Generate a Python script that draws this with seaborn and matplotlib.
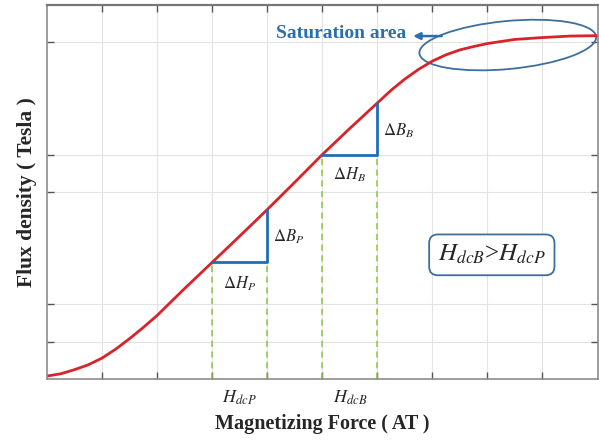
import numpy as np
import pandas as pd
import matplotlib
matplotlib.use('Agg')
import matplotlib.pyplot as plt
import matplotlib.transforms as mtransforms
from matplotlib.patches import Ellipse
import seaborn as sns

# B-H curve
force = [0, 0.25, 0.5, 0.75, 1, 1.25, 1.5, 1.75, 2, 2.5, 3, 3.5, 4, 4.5, 5, 5.5, 6,
         6.25, 6.5, 6.75, 7, 7.25, 7.5, 7.75, 8, 8.5, 9, 9.5, 10]
flux = [0.08, 0.14, 0.25, 0.38, 0.56, 0.8, 1.08, 1.38, 1.7, 2.42, 3.12, 3.82, 4.53, 5.26, 6.0, 6.7, 7.38,
        7.72, 8.02, 8.28, 8.5, 8.67, 8.8, 8.89, 8.97, 9.08, 9.13, 9.17, 9.18]

# operating points (triangles)
tri_p_x = [3, 4, 4]
tri_p_y = [3.12, 3.12, 4.53]
tri_b_x = [5, 6, 6]
tri_b_y = [6.0, 6.0, 7.38]

xticks = [1, 2, 3, 4, 5, 6, 7, 8, 9]
yticks = [1, 2, 5, 6, 9]
hdc_ticks = [3.5, 5.5]
hdc_labels = [r'$H_{dcP}$', r'$H_{dcB}$']

df = pd.DataFrame({'H': force, 'B': flux})

sns.set_style('white')
plt.rcParams['font.family'] = ['Liberation Serif', 'DejaVu Serif']
plt.rcParams['mathtext.fontset'] = 'stix'

fig = plt.figure(figsize=(5.99, 4.4), dpi=100)
ax = fig.add_axes([0.0785, 0.1386, 0.919, 0.85])

ax.set_xlim(0, 10)
ax.set_ylim(0, 10)
ax.set_xticks(xticks)
ax.set_yticks(yticks)
ax.set_xticklabels([])
ax.set_yticklabels([])
ax.grid(True, color='#e3e3e3', linewidth=0.8)
ax.set_axisbelow(True)
ax.tick_params(direction='in', length=5, width=1, color='#555555',
               top=True, right=True, bottom=True, left=True)
ax.set_xticks(hdc_ticks, minor=True)
ax.set_xticklabels(hdc_labels, minor=True, fontsize=13)
ax.tick_params(axis='x', which='minor', direction='out', length=6, width=1,
               color='#333333', pad=1, top=False)
for s in ax.spines.values():
    s.set_color('#8c8c8c')
    s.set_linewidth(1.2)
ax.spines['top'].set_color('#777777')
ax.spines['top'].set_linewidth(1.6)

# dashed guide lines
for xv, yv in [(3, 3.12), (4, 3.12), (5, 6.0), (6, 6.0)]:
    ax.plot([xv, xv], [0, yv], color='#8cc63f', linestyle=(0, (4, 3)), linewidth=1.1)

sns.lineplot(data=df, x='H', y='B', ax=ax, color='#d9232a', linewidth=2, sort=False)

ax.plot(tri_p_x, tri_p_y, color='#1f6db5', linewidth=2)
ax.plot(tri_b_x, tri_b_y, color='#1f6db5', linewidth=2)

ax.text(3.5, 2.55, r'$\Delta H_P$', ha='center', va='center', fontsize=12)
ax.text(4.1, 3.8, r'$\Delta B_P$', ha='left', va='center', fontsize=12)
ax.text(5.5, 5.45, r'$\Delta H_B$', ha='center', va='center', fontsize=12)
ax.text(6.1, 6.65, r'$\Delta B_B$', ha='left', va='center', fontsize=12)

ax.text(8.08, 3.32, r'$H_{dcB}$>$H_{dcP}$', ha='center', va='center', fontsize=18,
        bbox=dict(boxstyle='round,pad=0.35', fc='white', ec='#3e6e9a', lw=1.3))

# saturation ellipse (size in inches, centre in data)
trans = fig.dpi_scale_trans + mtransforms.ScaledTranslation(8.37, 8.93, ax.transData)
ax.add_patch(Ellipse((0, 0), 1.775, 0.48, angle=5.4, fill=False,
                     ec='#3e6e9a', lw=1.3, transform=trans))
ax.annotate('', xy=(6.6, 9.17), xytext=(7.22, 9.17),
            arrowprops=dict(arrowstyle='-|>', color='#2a6ead', lw=1.8, mutation_scale=10))
ax.text(5.35, 9.25, 'Saturation area', ha='center', va='center', fontsize=14,
        fontweight='bold', color='#2a6ead')

ax.set_xlabel('Magnetizing Force ( AT )', fontsize=14.5, fontweight='bold', labelpad=5)
ax.set_ylabel('Flux density ( Tesla )', fontsize=15.5, fontweight='bold', labelpad=4)

fig.savefig('out.png', dpi=100)
